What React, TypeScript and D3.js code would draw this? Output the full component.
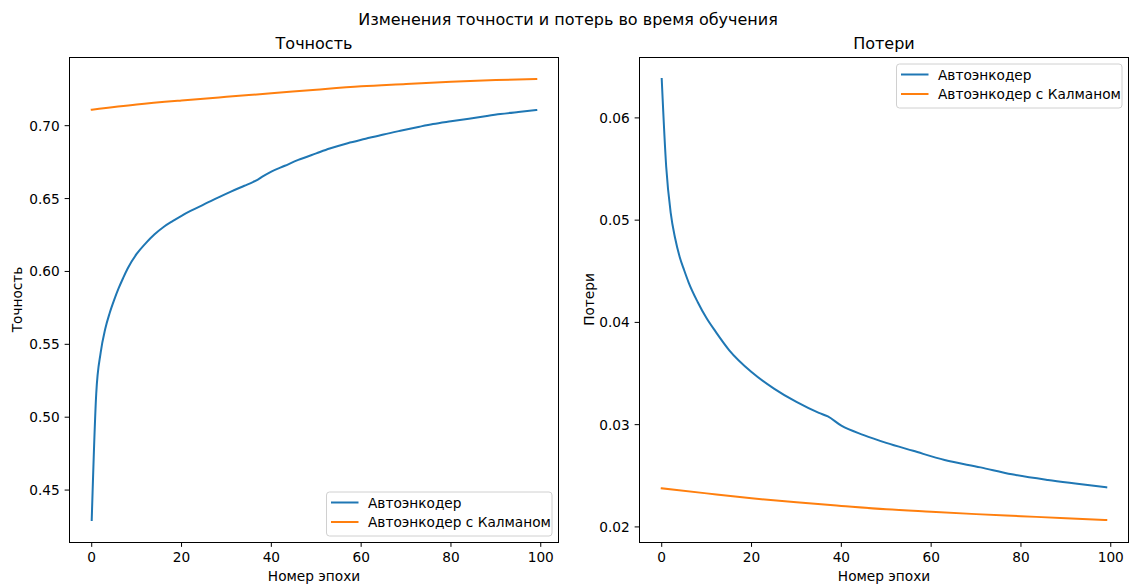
import React from "react";
import * as d3 from "d3";

const W = 1129;
const H = 585;

const suptitle = "Изменения точности и потерь во время обучения";
const seriesNames = ["Автоэнкодер", "Автоэнкодер с Калманом"];
const colors = ["#1f77b4", "#ff7f0e"];

// Accuracy (Точность)
const accBlueEpochs = [0, 1, 2, 3, 4, 5, 6, 7, 8, 10, 12, 14, 16, 18, 20, 22, 25, 28, 31, 34, 36, 37, 38, 40, 43, 46, 50, 53, 57, 61, 65, 69, 73, 76, 80, 84, 88, 91, 95, 99];
const accBlueValues = [0.4295, 0.516, 0.5445, 0.5605, 0.5715, 0.5805, 0.5885, 0.5955, 0.602, 0.612, 0.6193, 0.6255, 0.6305, 0.6345, 0.6382, 0.6415, 0.646, 0.6505, 0.6548, 0.6588, 0.6615, 0.663, 0.665, 0.6685, 0.6725, 0.6765, 0.681, 0.6843, 0.688, 0.691, 0.694, 0.6967, 0.6993, 0.7011, 0.703, 0.7048, 0.7067, 0.708, 0.7094, 0.7107];
const accOrangeEpochs = [0, 10, 20, 30, 40, 50, 60, 70, 80, 90, 99];
const accOrangeValues = [0.711, 0.7145, 0.7173, 0.7198, 0.7222, 0.7247, 0.727, 0.7286, 0.7302, 0.7313, 0.732];

// Loss (Потери)
const lossBlueEpochs = [0, 1, 2, 3, 4, 5, 6, 8, 10, 12, 15, 20, 25, 30, 35, 37, 40, 45, 50, 56, 63, 71, 78, 86, 93, 99];
const lossBlueValues = [0.0638, 0.0552, 0.0507, 0.0482, 0.0464, 0.0451, 0.0439, 0.042, 0.0404, 0.0391, 0.0373, 0.03515, 0.03353, 0.03222, 0.03115, 0.0308, 0.0299, 0.02898, 0.02822, 0.02744, 0.02654, 0.02582, 0.02514, 0.02459, 0.0242, 0.02387];
const lossOrangeEpochs = [0, 10, 20, 30, 40, 50, 60, 70, 80, 90, 99];
const lossOrangeValues = [0.02378, 0.02328, 0.0228, 0.0224, 0.02205, 0.02172, 0.02148, 0.02125, 0.02105, 0.02085, 0.02068];

const xTicks = [0, 20, 40, 60, 80, 100];
const accTicks = [0.45, 0.5, 0.55, 0.6, 0.65, 0.7];
const lossTicks = [0.02, 0.03, 0.04, 0.05, 0.06];

const FONT = "DejaVu Sans";
const FS = 13.7;
const FT = 16;
const TICK = 4.86;

type Panel = {
  left: number;
  right: number;
  title: string;
  ylabel: string;
  yTicks: number[];
  yFmt: (v: number) => string;
  series: { x: number[]; y: number[] }[];
  legend: { x: number; y: number; w: number; h: number };
  ylabelX: number;
};

const TOP = 57;
const BOTTOM = 542;

function PanelView({ p }: { p: Panel }) {
  const allY = p.series.flatMap((s) => s.y);
  const yMin = d3.min(allY)!;
  const yMax = d3.max(allY)!;
  const yPad = (yMax - yMin) * 0.05;
  const xPad = 99 * 0.05;
  const x = d3.scaleLinear().domain([0 - xPad, 99 + xPad]).range([p.left, p.right]);
  const y = d3.scaleLinear().domain([yMin - yPad, yMax + yPad]).range([BOTTOM, TOP]);
  const line = d3
    .line<[number, number]>()
    .x((d) => x(d[0]))
    .y((d) => y(d[1]))
    .curve(d3.curveMonotoneX);
  const cx = (p.left + p.right) / 2;
  const cy = (TOP + BOTTOM) / 2;
  return (
    <g fontFamily={FONT} fill="#000">
      <text x={cx} y={49} textAnchor="middle" fontSize={FT}>
        {p.title}
      </text>
      {p.series.map((s, i) => (
        <path
          key={i}
          d={line(s.x.map((v, j) => [v, s.y[j]] as [number, number])) || ""}
          fill="none"
          stroke={colors[i]}
          strokeWidth={2}
          strokeLinejoin="round"
          strokeLinecap="square"
        />
      ))}
      <rect
        x={p.left}
        y={TOP}
        width={p.right - p.left}
        height={BOTTOM - TOP}
        fill="none"
        stroke="#000"
        strokeWidth={1}
        shapeRendering="crispEdges"
      />
      {xTicks.map((t) => (
        <g key={t}>
          <line x1={x(t)} x2={x(t)} y1={BOTTOM} y2={BOTTOM + TICK} stroke="#000" strokeWidth={1} />
          <text x={x(t)} y={BOTTOM + 19.5} textAnchor="middle" fontSize={FS}>
            {t}
          </text>
        </g>
      ))}
      {p.yTicks.map((t) => (
        <g key={t}>
          <line x1={p.left - TICK} x2={p.left} y1={y(t)} y2={y(t)} stroke="#000" strokeWidth={1} />
          <text x={p.left - 9.8} y={y(t) + 5} textAnchor="end" fontSize={FS}>
            {p.yFmt(t)}
          </text>
        </g>
      ))}
      <text x={cx} y={581} textAnchor="middle" fontSize={FS}>
        Номер эпохи
      </text>
      <text
        transform={`translate(${p.ylabelX},${cy}) rotate(-90)`}
        textAnchor="middle"
        fontSize={FS}
      >
        {p.ylabel}
      </text>
      <g>
        <rect
          x={p.legend.x}
          y={p.legend.y}
          width={p.legend.w}
          height={p.legend.h}
          rx={3}
          fill="#fff"
          fillOpacity={0.8}
          stroke="#d0d0d0"
          strokeWidth={1}
        />
        {seriesNames.map((n, i) => {
          const ly = p.legend.y + 10.5 + i * 19.5;
          return (
            <g key={n}>
              <line
                x1={p.legend.x + 4.5}
                x2={p.legend.x + 32}
                y1={ly}
                y2={ly}
                stroke={colors[i]}
                strokeWidth={2}
              />
              <text x={p.legend.x + 41.5} y={ly + 5} fontSize={FS}>
                {n}
              </text>
            </g>
          );
        })}
      </g>
    </g>
  );
}

export default function App() {
  const panels: Panel[] = [
    {
      left: 69.5,
      right: 558.5,
      title: "Точность",
      ylabel: "Точность",
      yTicks: accTicks,
      yFmt: (v) => v.toFixed(2),
      series: [
        { x: accBlueEpochs, y: accBlueValues },
        { x: accOrangeEpochs, y: accOrangeValues },
      ],
      legend: { x: 326.5, y: 492, w: 225.5, h: 44 },
      ylabelX: 22,
    },
    {
      left: 639.5,
      right: 1128.5,
      title: "Потери",
      ylabel: "Потери",
      yTicks: lossTicks,
      yFmt: (v) => v.toFixed(2),
      series: [
        { x: lossBlueEpochs, y: lossBlueValues },
        { x: lossOrangeEpochs, y: lossOrangeValues },
      ],
      legend: { x: 896.5, y: 64, w: 225.5, h: 44 },
      ylabelX: 594,
    },
  ];
  return (
    <svg
      width={W}
      height={H}
      style={{ position: "absolute", left: 0, top: 0, background: "#fff" }}
    >
      <rect width={W} height={H} fill="#fff" />
      <text x={568} y={25} textAnchor="middle" fontSize={FT} fontFamily={FONT}>
        {suptitle}
      </text>
      {panels.map((p, i) => (
        <PanelView key={i} p={p} />
      ))}
    </svg>
  );
}
